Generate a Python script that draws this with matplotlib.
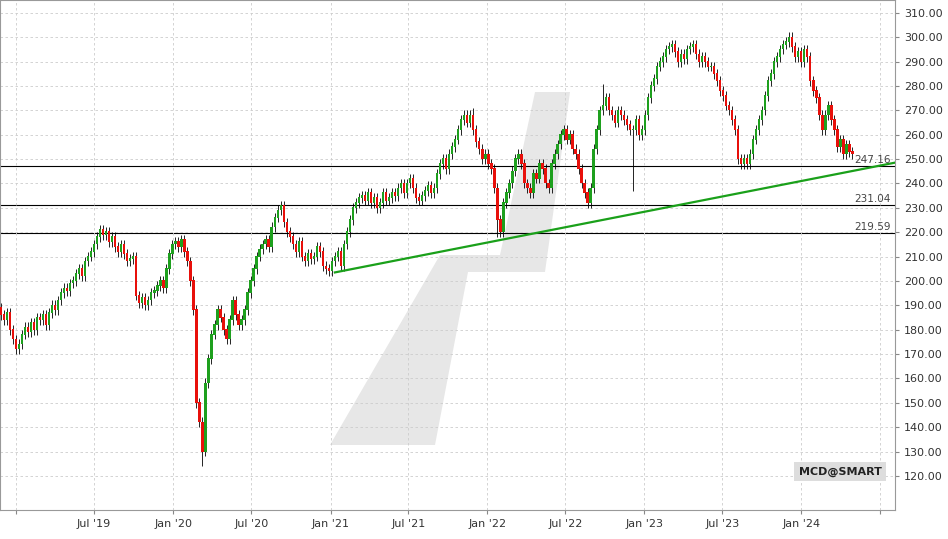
import numpy as np
import pandas as pd
import matplotlib.pyplot as plt
import matplotlib.dates as mdates
from matplotlib.patches import Polygon

# weekly closes, starting week of 2018-11-26
closes = [
    186, 184, 187, 180, 176, 172, 174, 178, 181, 179, 183, 180, 185,
    184, 186, 182, 187, 190, 188, 192, 195, 197, 196, 199, 200, 203,
    205, 202, 208, 210, 212, 215, 218, 221, 219, 220, 216, 218, 214,
    212, 215, 211, 208, 209, 210, 194, 191, 193, 190, 192, 195, 196,
    198, 200, 197, 205, 211, 215, 216, 214, 217, 212, 208, 200, 188,
    150, 142, 130, 158, 168, 178, 182, 188, 185, 180, 176, 184, 192,
    186, 182, 184, 188, 195, 200, 205, 210, 213, 215, 217, 214, 222,
    226, 229, 231, 224, 220, 218, 215, 212, 216, 210, 208, 211, 209,
    210, 214, 212, 206, 205, 204, 208, 210, 212, 206, 215, 220, 225,
    230, 232, 234, 235, 233, 236, 232, 234, 230, 232, 236, 233, 234,
    236, 235, 238, 240, 236, 240, 242, 238, 234, 233, 235, 237, 239,
    236, 238, 244, 248, 250, 246, 252, 255, 258, 262, 266, 268, 265,
    268, 262, 257, 254, 250, 252, 248, 246, 238, 225, 220, 232, 236,
    240, 245, 250, 252, 248, 240, 238, 236, 244, 242, 248, 246, 240,
    238, 248, 252, 256, 260, 262, 258, 260, 254, 252, 246, 240, 236,
    232, 238, 254, 262, 270, 272, 275, 270, 268, 265, 270, 268, 266,
    264, 262, 262, 266, 260, 262, 268, 275, 280, 283, 288, 290, 292,
    295, 296, 297, 294, 290, 293, 291, 295, 296, 297, 293, 290, 292,
    290, 288, 288, 285, 282, 278, 276, 272, 270, 266, 262, 250, 248,
    250, 248, 252, 258, 262, 266, 270, 276, 282, 285, 290, 292, 295,
    297, 298, 300, 296, 292, 294, 290, 295, 292, 282, 278, 275, 268,
    262, 268, 272, 266, 262, 255, 258, 252, 256, 253, 252,
]
open_first = 189
# long wicks visible on the chart: (week index, value)
wick_lows = [(67, 124), (165, 218), (210, 237)]
wick_highs = [(157, 271), (200, 281), (262, 302)]

levels = [247.16, 231.04, 219.59]
trend_dates = ["2021-01-11", "2024-08-19"]
trend_values = [203.5, 249.0]

dates = pd.date_range("2018-11-26", periods=len(closes), freq="7D")
closes = np.array(closes, dtype=float)
opens = np.concatenate([[open_first], closes[:-1]])
highs = np.maximum(opens, closes) + 2
lows = np.minimum(opens, closes) - 2
for i, v in wick_lows:
    lows[i] = v
for i, v in wick_highs:
    highs[i] = v

fig = plt.figure(figsize=(9.48, 5.39), dpi=100)
ax = fig.add_axes([0, 1 - 510 / 539, 895 / 948, 510 / 539])

# watermark
pts = [(330, 445), (435, 445), (468, 272), (545, 272), (570, 92), (535, 92),
       (500, 255), (440, 255)]
ax.add_patch(Polygon([(x / 948, 1 - y / 539) for x, y in pts], closed=True,
                     transform=fig.transFigure, facecolor="#dddddd",
                     edgecolor="none", alpha=0.7, zorder=0))

xd = mdates.date2num(dates)
up = closes >= opens
col = np.where(up, "#1ea01e", "#e8100b")
ax.vlines(xd, lows, highs, color="black", lw=0.6, zorder=2)
ax.bar(xd, np.abs(closes - opens) + 0.3, bottom=np.minimum(opens, closes),
       width=5.5, color=col, edgecolor="none", zorder=3)

for lv in levels:
    ax.axhline(lv, color="black", lw=0.8, zorder=1)
    ax.text(0.995, lv + 0.6, f"{lv:.2f}", transform=ax.get_yaxis_transform(),
            ha="right", va="bottom", fontsize=7.5, color="#444444", zorder=4)

ax.plot(pd.to_datetime(trend_dates), trend_values, color="#1aa01a", lw=1.6, zorder=4)

lo_lim = mdates.date2num(pd.Timestamp("2018-11-24"))
hi_lim = mdates.date2num(pd.Timestamp("2024-08-06"))
ax.set_xlim(lo_lim, hi_lim)
ax.set_ylim(106, 315.3)
ax.yaxis.tick_right()
ax.set_yticks(np.arange(120, 311, 10))
ax.yaxis.set_major_formatter(plt.FuncFormatter(lambda v, p: f"{v:.2f}"))
ax.xaxis.set_major_locator(mdates.MonthLocator(bymonth=[1, 7]))


def fmt_date(v, p):
    if v < lo_lim + 60 or v > hi_lim - 60:
        return ""
    return mdates.num2date(v).strftime("%b '%y")


ax.xaxis.set_major_formatter(plt.FuncFormatter(fmt_date))
ax.tick_params(labelsize=8, length=3, color="#888888", labelcolor="#333333")
ax.grid(True, color="#cccccc", ls=(0, (3, 3)), lw=0.6)
for s in ax.spines.values():
    s.set_color("#999999")

ax.text(0.985, 0.075, "MCD@SMART", transform=ax.transAxes, ha="right",
        va="center", fontsize=8, fontweight="bold", color="#222222",
        bbox=dict(facecolor="#dddddd", edgecolor="none", pad=3), zorder=5)

fig.savefig("out.png", dpi=100)
